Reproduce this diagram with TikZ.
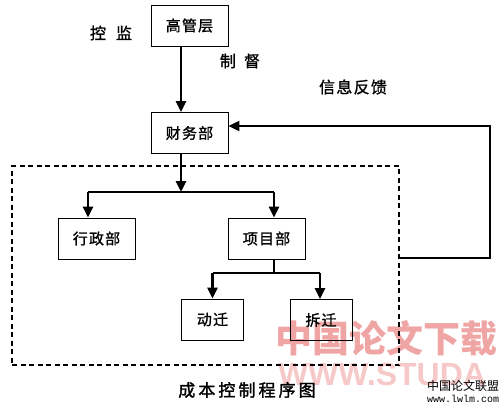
\documentclass[tikz,border=0pt]{standalone}
\usepackage{fontspec}
\newfontfamily\cjk{Noto Sans CJK SC}
\newfontfamily\cjkmid[FakeBold=1.2,LetterSpace=8]{Noto Sans CJK SC}
\newfontfamily\cjkwide[FakeBold=1.6,LetterSpace=18]{Noto Sans CJK SC}
\newfontfamily\monofnt{Liberation Mono}
\newfontfamily\wmsans{Liberation Sans}
\usetikzlibrary{arrows.meta}
\definecolor{wmpink}{RGB}{240,165,165}
\definecolor{wmlight}{RGB}{246,200,200}
\begin{document}
\begin{tikzpicture}[x=1pt,y=-1pt,
    box/.style={draw, line width=0.9pt, minimum width=77pt, minimum height=41pt, inner sep=0pt, font=\cjkmid\fontsize{15}{15}\selectfont},
    smallbox/.style={box, minimum width=62pt},
    arr/.style={line width=2.8pt, -{Triangle[length=11pt,width=10pt]}},
    fbarr/.style={line width=2.2pt, -{Triangle[length=11pt,width=10pt]}},
    link/.style={line width=2.2pt},
    dashbox/.style={draw, line width=1.6pt, dash pattern=on 5pt off 3.5pt, minimum width=387pt, minimum height=199pt, inner sep=0pt},
    tag/.style={font=\cjkmid\fontsize{16}{16}\selectfont}]
    \useasboundingbox (0,0) rectangle (500,405);

    % Watermark behind the chart
    \node[text=wmpink, font=\cjk\bfseries\fontsize{37}{37}\selectfont] (wmcn) at (386,338) {中国论文下载};
    \node[text=wmlight, font=\wmsans\bfseries\fontsize{32}{32}\selectfont] (wmen) at (382,374) {WWW.STUDA};

    % Boxes
    \node[box] (gao) at (189.5,25.5) {高管层};
    \node[box] (caiwu) at (189.5,133) {财务部};
    \node[box] (xingzheng) at (96.5,238.5) {行政部};
    \node[box] (xiangmu) at (266.5,238.5) {项目部};
    \node[smallbox] (dongqian) at (212.5,319.5) {动迁};
    \node[smallbox] (chaiqian) at (321,320) {拆迁};
    \node[dashbox] (frame) at (205.5,265.5) {};

    % Side labels
    \node[tag] (kongjian) at (111,33) {控\hspace{10pt}监};
    \node[tag] (zhidu) at (240,61) {制\hspace{8pt}督};
    \node[tag] (xinxi) at (353,87) {信息反馈};

    % Branch points
    \coordinate (gaoout) at ([xshift=-8.5pt]gao.south);
    \coordinate (s1) at (181,192);
    \coordinate (xzin) at ([xshift=-8.5pt]xingzheng.north);
    \coordinate (xmin) at ([xshift=7.5pt]xiangmu.north);
    \coordinate (s2) at (274,273);
    \coordinate (dqin) at (dongqian.north);
    \coordinate (cqin) at ([xshift=-1pt]chaiqian.north);

    % Top down arrows
    \draw[arr] (gaoout) -- (gaoout |- caiwu.north);
    \draw[arr] (caiwu.south -| s1) -- (s1);
    \draw[link] (xzin |- s1) -- (xmin |- s1);
    \draw[arr] (xzin |- s1) -- (xzin);
    \draw[arr] (xmin |- s1) -- (xmin);
    \draw[link] (xiangmu.south -| s2) -- (s2);
    \draw[link] (dqin |- s2) -- (cqin |- s2);
    \draw[arr] (dqin |- s2) -- (dqin);
    \draw[arr] (cqin |- s2) -- (cqin);

    % Feedback loop
    \coordinate (fbr) at (490,258);
    \coordinate (fbt) at (490,126);
    \draw[fbarr] (frame.east |- fbr) -- (fbr) -- (fbt) -- (caiwu.east |- fbt);

    % Caption
    \node[font=\cjkwide\fontsize{17}{17}\selectfont] (title) at (247,390) {成本控制程序图};

    % Site mark
    \node[font=\cjk\fontsize{12}{12}\selectfont] (site) at (463,386) {中国论文联盟};
    \node[font=\monofnt\fontsize{10}{10}\selectfont] (url) at (463,399) {www.lwlm.com};
\end{tikzpicture}
\end{document}
